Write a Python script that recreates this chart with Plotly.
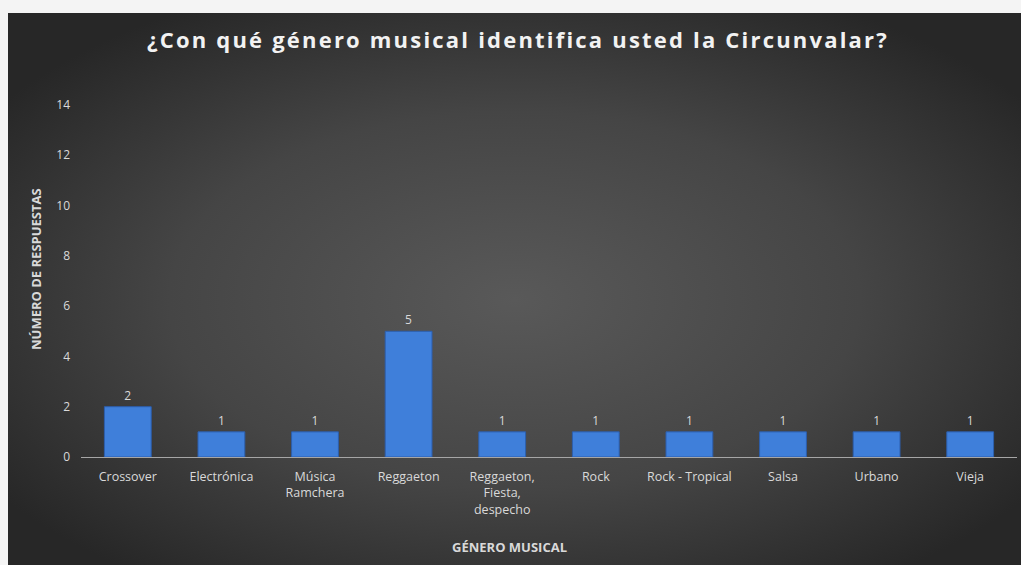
import plotly.graph_objects as go
import base64

categories = ["Crossover", "Electrónica", "Música<br>Ramchera", "Reggaeton",
              "Reggaeton,<br>Fiesta,<br>despecho", "Rock", "Rock - Tropical",
              "Salsa", "Urbano", "Vieja"]
values = [2, 1, 1, 5, 1, 1, 1, 1, 1, 1]
y_ticks = [0, 2, 4, 6, 8, 10, 12, 14]

title_text = "¿Con qué género musical identifica usted la Circunvalar?"
x_title = "GÉNERO MUSICAL"
y_title = "NÚMERO DE RESPUESTAS"

W, H = 1021, 565
L, R, T, B = 81, 4, 105, 108
pw, ph = W - L - R, H - T - B

svg = f'''<svg xmlns="http://www.w3.org/2000/svg" width="1013" height="552" viewBox="0 0 1013 552" preserveAspectRatio="none">
<defs><radialGradient id="g" cx="0.5" cy="0.52" r="0.62" fx="0.5" fy="0.52">
<stop offset="0" stop-color="#595959"/><stop offset="0.55" stop-color="#454545"/><stop offset="1" stop-color="#272727"/>
</radialGradient></defs><rect width="1013" height="552" fill="url(#g)"/></svg>'''
svg_uri = "data:image/svg+xml;base64," + base64.b64encode(svg.encode()).decode()

def px_x(p):
    return (p - L) / pw

def px_y(p):
    return (H - B - p) / ph

fig = go.Figure()
fig.add_trace(go.Bar(
    x=categories, y=values,
    marker=dict(color="#3f7fda", line=dict(color="#2c5fae", width=1)),
    width=0.5,
    text=[str(v) for v in values], textposition="outside",
    textfont=dict(family="Open Sans", size=12, color="#d9d9d9"),
    cliponaxis=False,
))

fig.update_layout(
    width=W, height=H,
    margin=dict(l=L, r=R, t=T, b=B),
    paper_bgcolor="#f4f4f4",
    plot_bgcolor="rgba(0,0,0,0)",
    showlegend=False,
    images=[dict(source=svg_uri, xref="paper", yref="paper",
                 x=px_x(8), y=px_y(13), sizex=px_x(W) - px_x(8), sizey=px_y(13) - px_y(H),
                 xanchor="left", yanchor="top", sizing="stretch", layer="below")],
    xaxis=dict(showgrid=False, showline=True, linecolor="#a6a6a6", linewidth=1,
               ticks="", ticklabelstandoff=8,
               tickfont=dict(family="Open Sans", size=12.5, color="#d9d9d9"),
               fixedrange=True),
    yaxis=dict(range=[0, 14], tickvals=y_ticks, showgrid=False, zeroline=False,
               showline=False, ticks="", ticklabelstandoff=10,
               tickfont=dict(family="Open Sans", size=12, color="#d9d9d9")),
    annotations=[
        dict(text=f'<span style="letter-spacing:2.2px"><b>{title_text}</b></span>',
             xref="paper", yref="paper", x=px_x(518), y=px_y(39),
             showarrow=False, font=dict(family="Open Sans", size=22, color="#f2f2f2"),
             xanchor="center", yanchor="middle"),
        dict(text=f"<b>{y_title}</b>", xref="paper", yref="paper",
             x=px_x(36), y=px_y(269), textangle=-90, showarrow=False,
             font=dict(family="Open Sans", size=13, color="#d9d9d9"),
             xanchor="center", yanchor="middle"),
        dict(text=f"<b>{x_title}</b>", xref="paper", yref="paper",
             x=px_x(509), y=px_y(547), showarrow=False,
             font=dict(family="Open Sans", size=13, color="#d9d9d9"),
             xanchor="center", yanchor="middle"),
    ],
)

fig.write_html("out.html", config={"displayModeBar": False},
               post_script="document.body.style.margin='0';")
